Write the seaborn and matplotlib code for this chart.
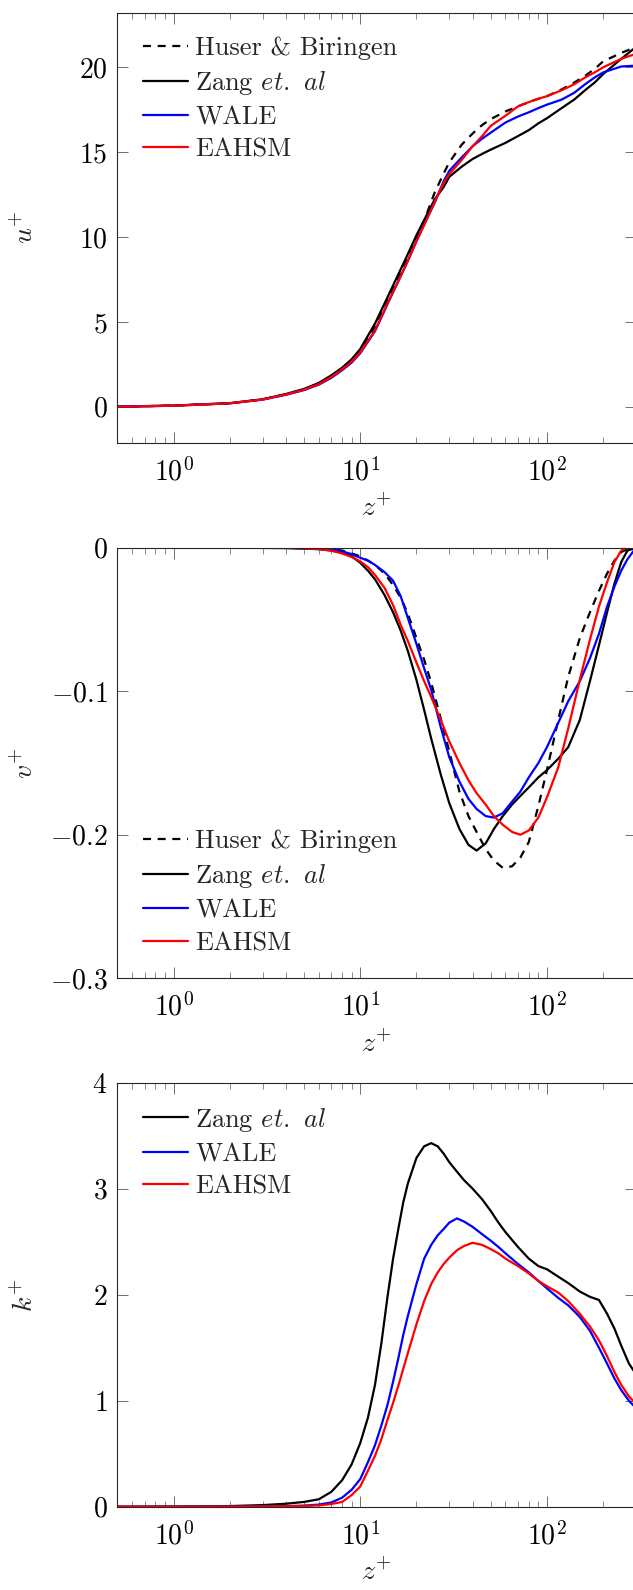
import matplotlib
matplotlib.use("Agg")
import matplotlib.pyplot as plt
import matplotlib.ticker as mticker
import seaborn as sns

# ---------------- data ----------------
# mean streamwise velocity u+
z_u = [0.5, 1, 2, 3, 4, 5, 6, 7, 8, 9, 10, 12, 14, 16, 18, 20, 22, 25, 28, 30,
       35, 40, 45, 50, 60, 70, 80, 90, 100, 120, 140, 160, 180, 200, 250, 300]
u_huser = [0.0, 0.07, 0.2, 0.43, 0.73, 1.02, 1.36, 1.8, 2.25, 2.72, 3.3, 4.7, 6.25, 7.65,
           8.85, 9.95, 10.95, 12.6, 13.75, 14.4, 15.45, 16.1, 16.6, 16.95, 17.4, 17.7, 17.95,
           18.15, 18.3, 18.7, 19.1, 19.5, 19.9, 20.35, 20.85, 21.2]
u_zang = [0.0, 0.07, 0.21, 0.44, 0.75, 1.05, 1.4, 1.85, 2.3, 2.8, 3.4, 4.9, 6.45, 7.8,
          9.0, 10.1, 11.0, 12.2, 12.95, 13.55, 14.15, 14.6, 14.9, 15.15, 15.55, 15.95, 16.3,
          16.7, 17.0, 17.6, 18.1, 18.65, 19.1, 19.6, 20.5, 21.2]
u_wale = [0.0, 0.06, 0.2, 0.42, 0.7, 0.98, 1.3, 1.7, 2.15, 2.6, 3.15, 4.45, 6.05, 7.4,
          8.6, 9.75, 10.75, 12.0, 13.3, 13.9, 14.7, 15.35, 15.8, 16.15, 16.75, 17.1, 17.35,
          17.6, 17.8, 18.1, 18.5, 19.0, 19.4, 19.7, 20.05, 20.1]
u_eahsm = [0.0, 0.06, 0.2, 0.42, 0.72, 1.0, 1.33, 1.75, 2.2, 2.65, 3.2, 4.5, 6.1, 7.4,
           8.6, 9.75, 10.7, 12.05, 13.2, 13.7, 14.55, 15.35, 15.95, 16.55, 17.15, 17.7, 17.95,
           18.15, 18.3, 18.65, 19.0, 19.4, 19.7, 20.0, 20.5, 20.8]

# mean spanwise velocity v+
z_v = [0.5, 1, 2, 4, 6, 7, 8, 9, 10, 11, 12, 13.5, 15, 16.5, 18, 20, 22, 24, 27, 30,
       34, 38, 42, 47, 52, 58, 65, 72, 80, 90, 100, 115, 130, 150, 170, 190, 210, 230,
       250, 270, 300]
v_huser = [0, 0, 0, 0, -0.0005, -0.001, -0.002, -0.004, -0.006, -0.009, -0.012, -0.018,
           -0.026, -0.035, -0.046, -0.063, -0.078, -0.094, -0.119, -0.142, -0.170, -0.187,
           -0.198, -0.210, -0.218, -0.223, -0.222, -0.216, -0.205, -0.180, -0.155, -0.120,
           -0.090, -0.063, -0.045, -0.030, -0.018, -0.009, -0.003, -0.001, 0.0]
v_zang = [0, 0, 0, -0.0003, -0.001, -0.002, -0.0035, -0.006, -0.0105, -0.016, -0.022,
          -0.033, -0.045, -0.058, -0.072, -0.092, -0.113, -0.133, -0.158, -0.178, -0.196,
          -0.207, -0.211, -0.206, -0.196, -0.187, -0.179, -0.173, -0.167, -0.160, -0.155,
          -0.147, -0.139, -0.120, -0.093, -0.068, -0.045, -0.025, -0.010, -0.002, 0.0]
v_wale = [0, 0, 0, 0, -0.0005, -0.001, -0.0025, -0.0045, -0.007, -0.009, -0.012, -0.017,
          -0.023, -0.034, -0.049, -0.067, -0.084, -0.099, -0.125, -0.146, -0.163, -0.175,
          -0.182, -0.187, -0.188, -0.185, -0.177, -0.170, -0.160, -0.150, -0.139, -0.122,
          -0.107, -0.093, -0.077, -0.060, -0.041, -0.027, -0.016, -0.008, 0.0]
v_eahsm = [0, 0, 0, 0, -0.001, -0.002, -0.004, -0.0065, -0.0095, -0.0135, -0.019, -0.028,
           -0.040, -0.054, -0.065, -0.080, -0.093, -0.104, -0.120, -0.135, -0.150, -0.162,
           -0.171, -0.179, -0.187, -0.193, -0.198, -0.200, -0.197, -0.188, -0.174, -0.153,
           -0.126, -0.092, -0.064, -0.041, -0.024, -0.010, -0.002, 0.0, 0.0]

# turbulent kinetic energy k+
z_k = [0.5, 1, 2, 3, 4, 5, 6, 7, 8, 9, 10, 11, 12, 13, 14, 15, 16, 17, 18, 20, 22, 24,
       26, 28, 30, 33, 36, 40, 45, 50, 55, 60, 70, 80, 90, 100, 115, 130, 150, 170, 190,
       210, 230, 250, 275, 300]
k_zang = [0, 0.002, 0.006, 0.015, 0.028, 0.045, 0.07, 0.14, 0.25, 0.40, 0.60, 0.84, 1.15,
          1.55, 1.98, 2.34, 2.62, 2.87, 3.05, 3.29, 3.40, 3.43, 3.40, 3.33, 3.25, 3.16, 3.08,
          3.00, 2.90, 2.79, 2.68, 2.59, 2.45, 2.34, 2.27, 2.24, 2.17, 2.11, 2.03, 1.98, 1.95,
          1.82, 1.68, 1.52, 1.35, 1.25]
k_wale = [0, 0, 0.001, 0.003, 0.006, 0.01, 0.02, 0.04, 0.085, 0.16, 0.26, 0.42, 0.58, 0.77,
          0.96, 1.18, 1.40, 1.62, 1.80, 2.10, 2.34, 2.47, 2.56, 2.62, 2.68, 2.72, 2.69, 2.64,
          2.57, 2.51, 2.45, 2.39, 2.29, 2.21, 2.13, 2.06, 1.97, 1.90, 1.79, 1.66, 1.50, 1.35,
          1.21, 1.10, 1.00, 0.93]
k_eahsm = [0, 0, 0.001, 0.002, 0.004, 0.007, 0.012, 0.025, 0.045, 0.11, 0.19, 0.34, 0.48,
           0.64, 0.82, 0.98, 1.14, 1.30, 1.45, 1.72, 1.94, 2.10, 2.21, 2.29, 2.35, 2.42, 2.46,
           2.49, 2.47, 2.43, 2.39, 2.34, 2.27, 2.20, 2.13, 2.08, 2.02, 1.94, 1.82, 1.70, 1.57,
           1.42, 1.27, 1.15, 1.04, 0.97]

lbl_huser = "Huser & Biringen"
lbl_zang = r"Zang $\mathit{et.}$ $\mathit{al}$"
lbl_wale = "WALE"
lbl_eahsm = "EAHSM"

u_ticks = [0, 5, 10, 15, 20]
v_ticks = [-0.3, -0.2, -0.1, 0.0]
k_ticks = [0, 1, 2, 3, 4]

# ---------------- style ----------------
sns.set_theme(style="ticks")
plt.rcParams.update({
    "font.family": ["cmr10"],
    "mathtext.fontset": "cm",
    "axes.formatter.use_mathtext": True,
    "axes.unicode_minus": True,
    "font.size": 20,
    "axes.linewidth": 0.8,
    "axes.edgecolor": "0.15",
})

FS = 20
LEG_FS = 19
LW = 1.6
DASH = (0, (3.6, 3.0))

fig = plt.figure(figsize=(6.33, 15.9), dpi=100)
W, H = 633.0, 1590.0
LEFT_PX, RIGHT_PX = 117.3, 636.0

def make_axes(top_px, bottom_px):
    return fig.add_axes([LEFT_PX / W, 1 - bottom_px / H,
                         (RIGHT_PX - LEFT_PX) / W, (bottom_px - top_px) / H])

panels = [(12.7, 442.7), (547.7, 978.3), (1082.7, 1506.7)]
ax1, ax2, ax3 = [make_axes(t, b) for t, b in panels]

def draw(ax, x, y, color, label, ls="-"):
    sns.lineplot(x=x, y=y, ax=ax, color=color, lw=LW, linestyle=ls,
                 label=label, estimator=None, sort=False, legend=False)

draw(ax1, z_u, u_huser, "black", lbl_huser, DASH)
draw(ax1, z_u, u_zang, "black", lbl_zang)
draw(ax1, z_u, u_wale, "blue", lbl_wale)
draw(ax1, z_u, u_eahsm, "red", lbl_eahsm)

draw(ax2, z_v, v_huser, "black", lbl_huser, DASH)
draw(ax2, z_v, v_zang, "black", lbl_zang)
draw(ax2, z_v, v_wale, "blue", lbl_wale)
draw(ax2, z_v, v_eahsm, "red", lbl_eahsm)

draw(ax3, z_k, k_zang, "black", lbl_zang)
draw(ax3, z_k, k_wale, "blue", lbl_wale)
draw(ax3, z_k, k_eahsm, "red", lbl_eahsm)

def v_fmt(val, pos):
    if abs(val) < 1e-12:
        return r"$\mathdefault{0}$"
    return r"$\mathdefault{%s}$" % ("%.1f" % val).replace("-", "\N{MINUS SIGN}")

axes_info = [(ax1, r"$u^{+}$", u_ticks, (-2.12, 23.22)),
             (ax2, r"$v^{+}$", v_ticks, (-0.3, 0.0)),
             (ax3, r"$k^{+}$", k_ticks, (0, 4))]

for (ax, ylab, yt, ylim), (top_px, bot_px) in zip(axes_info, panels):
    h_px = bot_px - top_px
    ax.set_xscale("log")
    ax.set_xlim(0.5, 300)
    ax.set_ylim(*ylim)
    ax.set_yticks(yt)
    ax.xaxis.set_major_locator(mticker.LogLocator(base=10, numticks=10))
    ax.xaxis.set_minor_locator(mticker.LogLocator(base=10, subs=range(2, 10), numticks=20))
    ax.xaxis.set_minor_formatter(mticker.NullFormatter())
    ax.tick_params(which="both", direction="in", top=True, right=True,
                   color="0.35", labelsize=FS, labelcolor="black")
    ax.tick_params(which="major", length=8, width=0.6)
    ax.tick_params(which="minor", length=4.3, width=0.5)
    ax.tick_params(axis="y", which="major", pad=7)
    ax.tick_params(axis="x", which="major", pad=10.5)
    ax.set_xlabel(r"$z^{+}$", fontsize=FS)
    ax.set_ylabel(ylab, fontsize=FS)
    ax.xaxis.set_label_coords(0.5, -52.3 / h_px)
    ax.yaxis.set_label_coords((39.0 - LEFT_PX) / (RIGHT_PX - LEFT_PX), 0.5)
    for s in ax.spines.values():
        s.set_linewidth(0.8)
        s.set_color("0.15")

ax2.yaxis.set_major_formatter(mticker.FuncFormatter(v_fmt))

leg_kw = dict(frameon=False, fontsize=LEG_FS, handlelength=1.70, handletextpad=0.28,
              labelspacing=0.33, borderpad=0, borderaxespad=0)
ax1.legend(loc="upper left", bbox_to_anchor=(0.0495, 0.945), **leg_kw)
ax2.legend(loc="lower left", bbox_to_anchor=(0.0495, 0.054), **leg_kw)
ax3.legend(loc="upper left", bbox_to_anchor=(0.0495, 0.946), **leg_kw)

fig.savefig("out.png", dpi=100)
